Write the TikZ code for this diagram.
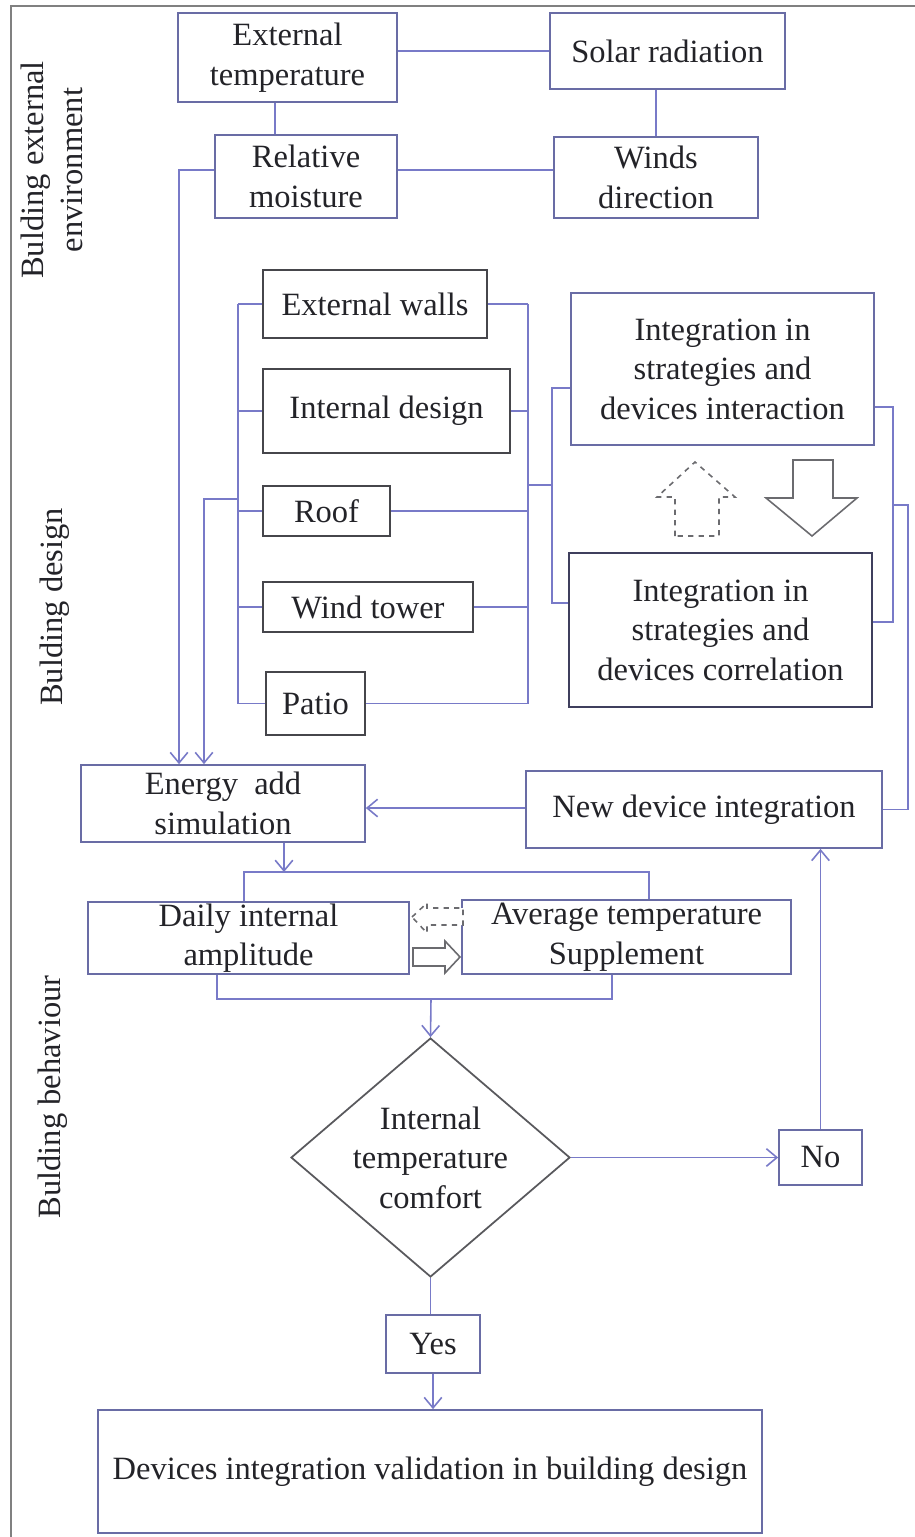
\documentclass[tikz,border=0pt]{standalone}
\usepackage{fontspec}
\setmainfont{Liberation Serif}
\usetikzlibrary{arrows.meta,shapes.geometric}

\definecolor{linkblue}{RGB}{120,122,200}
\definecolor{boxblue}{RGB}{105,108,165}
\definecolor{boxgray}{RGB}{70,70,75}
\definecolor{txt}{RGB}{35,35,40}

\begin{document}
\begin{tikzpicture}[x=0.02cm,y=-0.02cm,
  font=\fontsize{18.5}{22.5}\selectfont,
  box/.style={draw=boxblue, line width=1pt, inner sep=0pt, align=center, text=txt},
  dbox/.style={box, draw=boxgray},
  link/.style={draw=linkblue, line width=0.9pt},
  arr/.style={link, -{Straight Barb[length=6pt,width=10pt]}},
  blockarr/.style={draw=boxgray!80, line width=0.9pt, fill=white}]
\useasboundingbox (0,0) rectangle (915,1537);
\draw[gray, line width=0.8pt] (915,6) -- (11,6) -- (11,1537);

% side labels
\node[rotate=90, align=center, text=txt] (lenv) at (52,170) {Bulding external\\environment};
\node[rotate=90, text=txt] (ldesign) at (55,607) {Bulding design};
\node[rotate=90, text=txt] (lbehav) at (53,1097) {Bulding behaviour};

% external environment
\node[box, minimum width=4.38cm, minimum height=1.78cm] (exttemp) at (287.5,57.5) {External\\temperature};
\node[box, minimum width=4.70cm, minimum height=1.52cm] (solar) at (667.5,51) {Solar radiation};
\node[box, minimum width=3.64cm, minimum height=1.66cm] (relmoist) at (306,176.5) {Relative\\moisture};
\node[box, minimum width=4.08cm, minimum height=1.62cm] (winds) at (656,177.5) {Winds\\direction};

% building design
\node[dbox, minimum width=4.48cm, minimum height=1.36cm] (walls) at (375,304) {External walls};
\node[dbox, minimum width=4.94cm, minimum height=1.68cm] (intdesign) at (386.5,411) {Internal design};
\node[dbox, minimum width=2.54cm, minimum height=1.00cm] (roof) at (326.5,511) {Roof};
\node[dbox, minimum width=4.20cm, minimum height=1.00cm] (tower) at (368,607) {Wind tower};
\node[dbox, minimum width=1.98cm, minimum height=1.26cm] (patio) at (315.5,703.5) {Patio};
\node[box, minimum width=6.06cm, minimum height=3.04cm] (interact) at (722.5,369) {Integration in\\strategies and\\devices interaction};
\node[box, draw=boxgray!90!blue, minimum width=6.06cm, minimum height=3.08cm] (correl) at (720.5,630) {Integration in\\strategies and\\devices correlation};

% building behaviour
\node[box, minimum width=5.68cm, minimum height=1.54cm] (energy) at (223,803.5) {Energy\ \ add\\simulation};
\node[box, minimum width=7.12cm, minimum height=1.54cm] (newdev) at (704,809.5) {New device integration};
\node[box, minimum width=6.42cm, minimum height=1.44cm] (daily) at (248.5,938) {Daily internal\\amplitude};
\node[box, minimum width=6.58cm, minimum height=1.48cm] (average) at (626.5,937) {Average temperature\\Supplement};
\node[box, draw=boxgray!90, shape=diamond, aspect=1.17, minimum width=5.58cm, minimum height=4.78cm] (comfort) at (430.5,1157.5) {Internal\\temperature\\comfort};
\node[box, minimum width=1.66cm, minimum height=1.10cm] (no) at (820.5,1157.5) {No};
\node[box, minimum width=1.88cm, minimum height=1.16cm] (yes) at (433,1344) {Yes};
\node[box, minimum width=13.28cm, minimum height=2.46cm] (final) at (430,1471.5) {Devices integration validation in building design};

\coordinate (lbus) at (238,499);
\coordinate (rbus) at (528,485);
\coordinate (ibus) at (552,485);
\coordinate (obus) at (893,505);
\coordinate (fbus) at (908,505);
\coordinate (split) at (284,872);
\coordinate (merge) at (431,999);

% environment links
\draw[link] (exttemp.east |- solar.west) -- (solar.west);
\draw[link] ([xshift=-0.25cm]exttemp.south) -- ([xshift=-0.25cm]exttemp.south |- relmoist.north);
\draw[link] (solar.south -| winds.north) -- (winds.north);
\draw[link] ([yshift=0.13cm]relmoist.east) -- ([yshift=0.13cm]relmoist.east -| winds.west);
\draw[arr] ([yshift=0.13cm]relmoist.west) -| ([xshift=-0.88cm]energy.north);

% design links
\foreach \b in {walls,intdesign,roof,tower,patio}
  \draw[link] (\b.west) -- (\b.west -| lbus);
\draw[link] (walls.west -| lbus) -- (patio.west -| lbus);
\draw[arr] (lbus) -| ([xshift=-0.38cm]energy.north);
\foreach \b in {walls,intdesign,roof,tower,patio}
  \draw[link] (\b.east) -- (\b.east -| rbus);
\draw[link] (walls.east -| rbus) -- (patio.east -| rbus);
\draw[link] (rbus) -- (ibus);
\draw[link] ([yshift=-0.38cm]interact.west) -| (ibus) |- ([yshift=0.54cm]correl.west);
\draw[link] ([yshift=-0.76cm]interact.east) -| (obus) |- ([yshift=0.16cm]correl.east);
\draw[link] (obus) -- (fbus) |- (newdev.east);

% block arrows
\draw[blockarr, dashed] (675,536) -- (675,497) -- (657,497) -- (695,462) -- (735,497) -- (719,497) -- (719,536) -- cycle;
\draw[blockarr] (793,460) -- (833,460) -- (833,498) -- (857,498) -- (812,536) -- (766,498) -- (793,498) -- cycle;
\draw[blockarr, dashed] (412,917) -- (427,903) -- (427,908) -- (463,908) -- (463,925) -- (427,925) -- (427,933) -- cycle;
\draw[blockarr] (413,948) -- (445,948) -- (445,941) -- (460,957) -- (445,973) -- (445,966) -- (413,966) -- cycle;

% behaviour links
\draw[arr] (newdev.west |- 0,808) -- (energy.east |- 0,808);
\draw[arr] ([xshift=1.22cm]energy.south) -- (split);
\draw[link] ([xshift=-0.09cm]daily.north) |- (split) -| ([xshift=0.45cm]average.north);
\draw[link] ([xshift=-0.63cm]daily.south) |- (merge) -| ([xshift=-0.29cm]average.south);
\draw[arr] (merge) -- (comfort.north);
\draw[arr] (comfort.east) -- (no.west);
\draw[arr] (no.north) -- (no.north |- newdev.south);
\draw[link] (comfort.south) -- (comfort.south |- yes.north);
\draw[arr] (yes.south) -- (yes.south |- final.north);
\end{tikzpicture}
\end{document}
